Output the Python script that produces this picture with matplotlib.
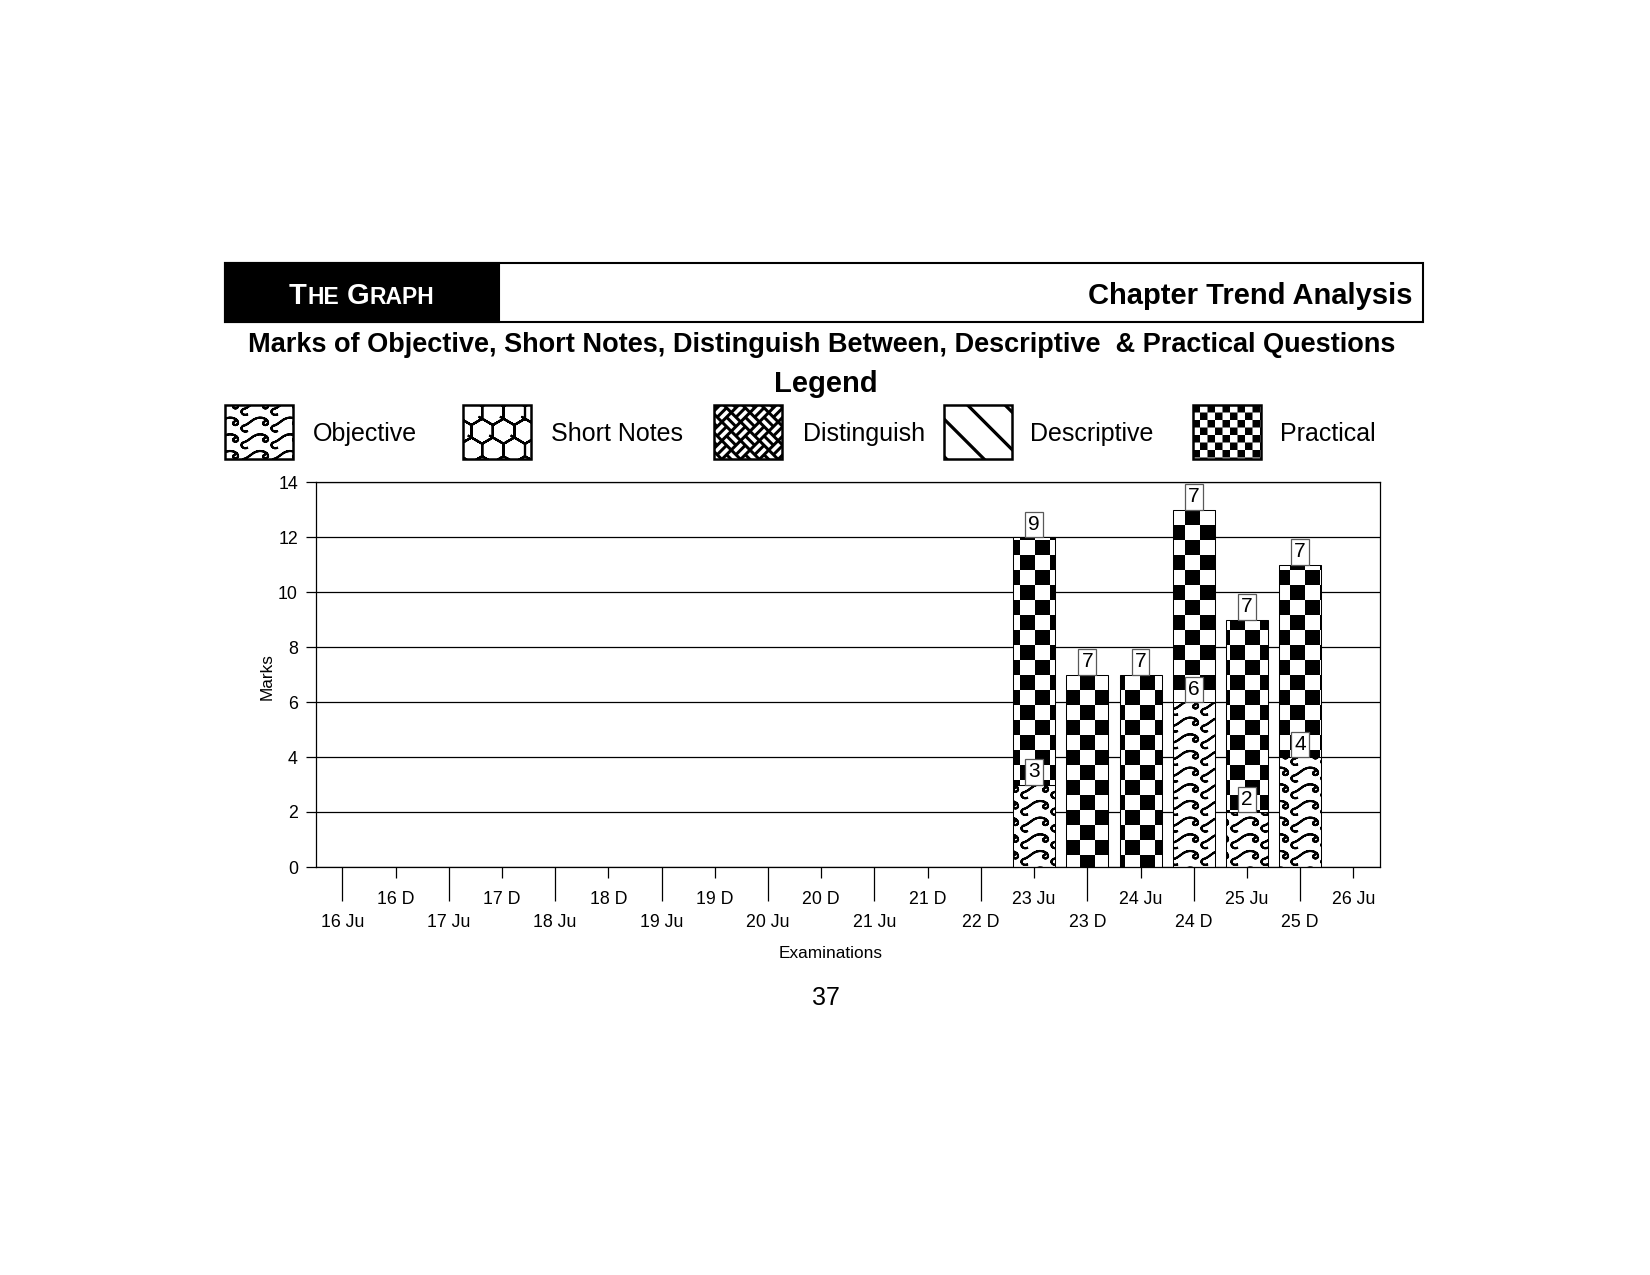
import warnings
import numpy as np
import matplotlib
matplotlib.use("Agg")
import matplotlib.pyplot as plt
import matplotlib.hatch as mhatch
from matplotlib.path import Path
from matplotlib.patches import Rectangle
from matplotlib.offsetbox import TextArea, HPacker, AnnotationBbox

warnings.filterwarnings("ignore")

# ---------------- data ----------------
exams = ['16 Ju', '16 D', '17 Ju', '17 D', '18 Ju', '18 D', '19 Ju', '19 D',
         '20 Ju', '20 D', '21 Ju', '21 D', '22 D', '23 Ju', '23 D', '24 Ju',
         '24 D', '25 Ju', '25 D', '26 Ju']
objective   = [0, 0, 0, 0, 0, 0, 0, 0, 0, 0, 0, 0, 0, 3, 0, 0, 6, 2, 4, 0]
short_notes = [0, 0, 0, 0, 0, 0, 0, 0, 0, 0, 0, 0, 0, 0, 0, 0, 0, 0, 0, 0]
distinguish = [0, 0, 0, 0, 0, 0, 0, 0, 0, 0, 0, 0, 0, 0, 0, 0, 0, 0, 0, 0]
descriptive = [0, 0, 0, 0, 0, 0, 0, 0, 0, 0, 0, 0, 0, 0, 0, 0, 0, 0, 0, 0]
practical   = [0, 0, 0, 0, 0, 0, 0, 0, 0, 0, 0, 0, 0, 9, 7, 7, 7, 7, 7, 0]
series_names = ['Objective', 'Short Notes', 'Distinguish', 'Descriptive', 'Practical']
y_ticks = [0, 2, 4, 6, 8, 10, 12, 14]

# ---------------- custom hatch patterns ----------------
DPI = 150
W, H = 1650, 1275
CELL = float(DPI)                       # Agg hatch tile = dpi pixels
HATCH_LW = 1.0
HALF_STROKE = 0.5 * HATCH_LW * DPI / 72.0
M, L, C4, CL = Path.MOVETO, Path.LINETO, Path.CURVE4, Path.CLOSEPOLY


def stroke_only(pts, codes):
    """forward + backward so the implicit fill has zero area"""
    return list(pts) + list(pts[-2::-1]), list(codes) + list(codes[-1:0:-1])


def checker(n):
    k = 10 * n
    s = CELL / k
    e = HALF_STROKE
    v, c = [], []
    for i in range(k):
        for j in range(k):
            if (i + j) % 2 == 0:
                x0, y0, x1, y1 = i * s + e, j * s + e, (i + 1) * s - e, (j + 1) * s - e
                v += [(x0, y0), (x1, y0), (x1, y1), (x0, y1), (x0, y0)]
                c += [M, L, L, L, CL]
    return v, c


def wave(n):
    nx, ny = 5 * n, 9 * n
    tw, th = CELL / nx, CELL / ny
    # breaking-wave motif in a 30 x 16 box (y up)
    motif = [(7.0, 2.0),
             (2.0, 0.5), (-1.0, 6.0), (4.0, 7.5),
             (10.0, 9.0), (13.0, 15.5), (21.0, 15.0),
             (28.0, 14.5), (30.0, 9.0), (26.0, 8.0),
             (23.5, 7.5), (22.0, 10.0), (24.0, 11.0)]
    mc = [M] + [C4] * 12
    v, c = [], []
    for j in range(-1, ny + 1):
        for i in range(-1, nx + 1):
            pts = [(i * tw + px * tw / 30.0, j * th + py * th / 16.0) for px, py in motif]
            pv, pc = stroke_only(pts, mc)
            v += pv
            c += pc
    return v, c


def hexes(n):
    nx, ny = 7 * n, 8 * n
    w = CELL / nx
    rs = CELL / ny
    R = rs / 1.5
    v, c = [], []
    for j in range(-1, ny + 2):
        off = w / 2 if j % 2 else 0.0
        for i in range(-1, nx + 2):
            cx, cy = i * w + off, j * rs
            pts = [(cx, cy + R), (cx - w / 2, cy + R / 2), (cx - w / 2, cy - R / 2),
                   (cx, cy - R), (cx + w / 2, cy - R / 2), (cx + w / 2, cy + R / 2),
                   (cx, cy + R)]
            pv, pc = stroke_only(pts, [M] + [L] * 6)
            v += pv
            c += pc
    return v, c


def basket(n):
    m = 8 * n
    t = CELL / m
    g = 3.6
    v, c = [], []

    def uv(u, vv):
        return ((u + vv) / 2.0, (u - vv) / 2.0)

    for i in range(-1, 2 * m + 2):
        for j in range(-m - 1, m + 2):
            u0, v0 = i * t, j * t
            if (i + j) % 2 == 0:
                rects = [(u0 + g, u0 + t - g, v0 + g, v0 + t / 2 - g),
                         (u0 + g, u0 + t - g, v0 + t / 2 + g, v0 + t - g)]
            else:
                rects = [(u0 + g, u0 + t / 2 - g, v0 + g, v0 + t - g),
                         (u0 + t / 2 + g, u0 + t - g, v0 + g, v0 + t - g)]
            for a0, a1, b0, b1 in rects:
                p = [uv(a0, b0), uv(a1, b0), uv(a1, b1), uv(a0, b1), uv(a0, b0)]
                v += p
                c += [M, L, L, L, CL]
    return v, c


def diag(n):
    k = 4 * n
    s = CELL / k
    a = 0.8
    v, c = [], []
    for mm in range(-k, k + 1):
        x0 = mm * s
        v += [(x0 - a, CELL), (x0 + a, CELL), (x0 + CELL + a, 0.0), (x0 + CELL - a, 0.0),
              (x0 - a, CELL)]
        c += [M, L, L, L, CL]
    return v, c


def register(char, builder):
    class _Custom(mhatch.HatchPatternBase):
        def __init__(self, hatch, density):
            n = hatch.count(char) if hatch else 0
            if n:
                vv, cc = builder(n)
                self._v = np.asarray(vv, float) / CELL
                self._c = np.asarray(cc, dtype=Path.code_type)
                self.num_vertices = len(self._v)
            else:
                self.num_vertices = 0

        def set_vertices_and_codes(self, vertices, codes):
            vertices[:] = self._v
            codes[:] = self._c
    mhatch._hatch_types.append(_Custom)


register('w', wave)
register('h', hexes)
register('b', basket)
register('d', diag)
register('c', checker)

bar_hatches = ['w', 'h', 'b', 'd', 'c']

# ---------------- figure ----------------
plt.rcParams['font.family'] = ['Liberation Sans', 'DejaVu Sans']
plt.rcParams['hatch.linewidth'] = HATCH_LW
plt.rcParams['hatch.color'] = 'black'

fig = plt.figure(figsize=(W / DPI, H / DPI), dpi=DPI)
fig.patch.set_facecolor('white')


def fx(px):
    return px / W


def fy(py):
    return 1.0 - py / H


# header
fig.add_artist(Rectangle((fx(225), fy(321.5)), (1423 - 225) / W, (321.5 - 262.5) / H,
                         transform=fig.transFigure, fc='white', ec='black', lw=1.0))
fig.add_artist(Rectangle((fx(225), fy(321.5)), (498.5 - 225) / W, (321.5 - 262.5) / H,
                         transform=fig.transFigure, fc='black', ec='black', lw=1.0))
big = dict(color='white', fontweight='bold', fontsize=14)
small = dict(color='white', fontweight='bold', fontsize=11)
the_box = HPacker(children=[TextArea('T', textprops=big), TextArea('HE', textprops=small)],
                  align='baseline', pad=0, sep=0.3)
graph_box = HPacker(children=[TextArea('G', textprops=big), TextArea('RAPH', textprops=small)],
                    align='baseline', pad=0, sep=0.3)
header_box = HPacker(children=[the_box, graph_box], align='baseline', pad=0, sep=3.5)
fig.add_artist(AnnotationBbox(header_box, (fx(361.5), fy(296)), xycoords='figure fraction',
                              frameon=False, box_alignment=(0.5, 0.5), pad=0))
fig.text(fx(1412), fy(304), 'Chapter Trend Analysis', ha='right', va='baseline',
         fontsize=14, fontweight='bold')

fig.text(fx(822), fy(352), 'Marks of Objective, Short Notes, Distinguish Between, '
         'Descriptive  & Practical Questions', ha='center', va='baseline',
         fontsize=13, fontweight='bold')
fig.text(fx(826), fy(392), 'Legend', ha='center', va='baseline', fontsize=14,
         fontweight='bold')

# legend
leg_left = [225, 463.5, 714, 944, 1193]
leg_text = [313, 551, 803, 1030, 1280]
leg_hatch = ['w', 'h', 'b', 'd', 'cc']
box_w, box_top, box_bot = 68, 405.5, 459
for name, lx, tx, hat in zip(series_names, leg_left, leg_text, leg_hatch):
    if hat == 'b':
        fig.add_artist(Rectangle((fx(lx), fy(box_bot)), box_w / W, (box_bot - box_top) / H,
                                 transform=fig.transFigure, fc='black', ec='white',
                                 lw=0, hatch=hat))
    else:
        fig.add_artist(Rectangle((fx(lx), fy(box_bot)), box_w / W, (box_bot - box_top) / H,
                                 transform=fig.transFigure, fc='white', ec='black',
                                 lw=0, hatch=hat))
    fig.add_artist(Rectangle((fx(lx), fy(box_bot)), box_w / W, (box_bot - box_top) / H,
                             transform=fig.transFigure, fill=False, ec='black', lw=1.2))
    fig.text(fx(tx), fy(441), name, ha='left', va='baseline', fontsize=12)

# axes
ax = fig.add_axes([fx(315.7), fy(867), (1380 - 315.7) / W, (867 - 482) / H])
x = np.arange(len(exams))
series = [objective, short_notes, distinguish, descriptive, practical]
bottom = np.zeros(len(exams))
for vals, hat in zip(series, bar_hatches):
    vals = np.asarray(vals, float)
    bc = ax.bar(x, vals, width=0.79, bottom=bottom, color='white', edgecolor='black',
                linewidth=0.5, hatch=hat, zorder=2)
    for p, v in zip(bc, vals):
        if v == 0:
            p.set_visible(False)
    labels = [f'{int(v)}' if v > 0 else '' for v in vals]
    ax.bar_label(bc, labels=labels, padding=1.5, fontsize=10, zorder=5,
                 bbox=dict(boxstyle='square,pad=0.15', fc='white', ec='0.35', lw=0.6))
    bottom = bottom + vals

ax.set_xlim(-0.5, len(exams) - 0.5)
ax.set_ylim(0, 14)
ax.set_yticks(y_ticks)
ax.yaxis.grid(True, color='black', lw=0.6)
ax.xaxis.grid(False)
ax.set_axisbelow(True)
ax.set_xticks(x[0::2], exams[0::2])
ax.set_xticks(x[1::2], exams[1::2], minor=True)
ax.tick_params(axis='x', which='major', length=16.2, width=0.6, pad=6.5, labelsize=8.5)
ax.tick_params(axis='x', which='minor', length=5.1, width=0.6, pad=6.5, labelsize=8.5)
ax.tick_params(axis='y', length=4.8, width=0.6, pad=3.7, labelsize=8.5)
for s in ax.spines.values():
    s.set_linewidth(0.6)
    s.set_color('black')

fig.text(fx(266.7), fy(677), 'Marks', rotation=90, ha='center', va='center', fontsize=8.3)
fig.text(fx(831), fy(953), 'Examinations', ha='center', va='center', fontsize=8.3)
fig.text(fx(826), fy(998), '37', ha='center', va='center', fontsize=12)

fig.savefig('out.png', dpi=DPI, facecolor='white')
